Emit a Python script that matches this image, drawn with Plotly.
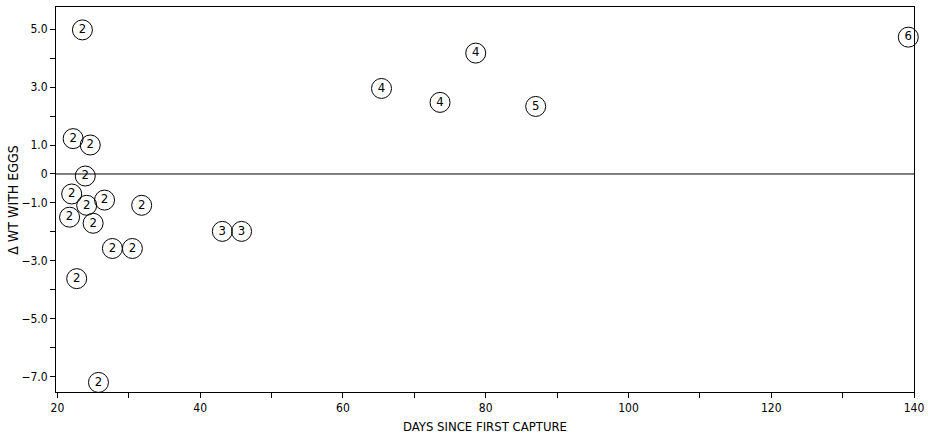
import plotly.graph_objects as go

days = [23.5, 22.2, 24.6, 23.9, 22.0, 24.1, 26.6, 31.8, 21.7, 25.0, 27.7, 30.5, 22.7, 25.75,
        43.1, 45.8, 65.4, 73.6, 78.6, 87.0, 139.2]
dwt = [4.97, 1.22, 1.0, -0.07, -0.69, -1.08, -0.90, -1.08, -1.49, -1.70, -2.57, -2.57, -3.61, -7.19,
       -1.98, -1.98, 2.95, 2.47, 4.17, 2.33, 4.72]
labels = ["2"] * 14 + ["3", "3", "4", "4", "4", "5", "6"]

x_ticks = list(range(20, 141, 10))
x_ticktext = [str(v) if v % 20 == 0 else "" for v in x_ticks]
y_ticks = [5, 4, 3, 2, 1, 0, -1, -2, -3, -4, -5, -6, -7]
y_labels = {5: "5.0", 3: "3.0", 1: "1.0", 0: "0", -1: "\u22121.0", -3: "\u22123.0", -5: "\u22125.0", -7: "\u22127.0"}
y_ticktext = [y_labels.get(v, "") for v in y_ticks]

font_family = "Liberation Sans Narrow, DejaVu Sans Condensed, Liberation Sans, sans-serif"

fig = go.Figure()
fig.add_trace(go.Scatter(
    x=days, y=dwt, mode="markers+text", text=labels,
    textposition="middle center",
    textfont=dict(family=font_family, size=13, color="black"),
    marker=dict(symbol="circle-open", size=20, color="black", line=dict(width=1, color="black")),
    showlegend=False, cliponaxis=False,
))

fig.add_shape(type="line", xref="paper", x0=0, x1=1, yref="y", y0=0, y1=0,
              line=dict(color="black", width=1))

fig.add_annotation(text="DAYS SINCE FIRST CAPTURE", xref="paper", yref="paper",
                   x=0.5, y=-0.065, yanchor="top", showarrow=False,
                   font=dict(family=font_family, size=13, color="black"))
fig.add_annotation(text="\u0394 WT WITH EGGS", xref="paper", yref="paper",
                   x=-0.051, y=0.50, textangle=-90, xanchor="center", yanchor="middle", showarrow=False,
                   font=dict(family=font_family, size=14, color="black"))

fig.update_layout(
    width=928, height=433,
    margin=dict(l=56, r=14, t=7, b=41),
    paper_bgcolor="white", plot_bgcolor="white",
    font=dict(family=font_family, size=12, color="black"),
    xaxis=dict(range=[19.8, 140], tickvals=x_ticks, ticktext=x_ticktext, automargin=False,
               ticks="outside", ticklen=5, tickcolor="black", showgrid=False, zeroline=False,
               showline=True, linecolor="black", linewidth=1, mirror=True),
    yaxis=dict(range=[-7.52, 5.76], tickvals=y_ticks, ticktext=y_ticktext, automargin=False,
               ticks="outside", ticklen=5, tickcolor="black", showgrid=False, zeroline=False,
               showline=True, linecolor="black", linewidth=1, mirror=True),
)

fig.write_html("out.html")
